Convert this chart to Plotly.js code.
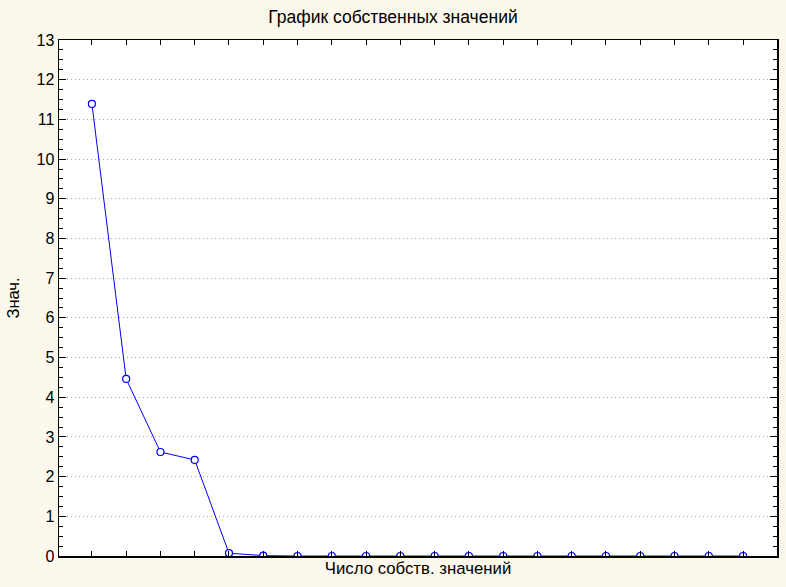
<!DOCTYPE html>
<html><head><meta charset="utf-8">
<script src="https://cdn.plot.ly/plotly-3.0.1.min.js"></script>
<style>body{margin:0;background:#fdf8ec;}</style>
</head><body>
<div id="chart" style="width:786px;height:587px;"></div>
<script>
const componentNumber = [1,2,3,4,5,6,7,8,9,10,11,12,13,14,15,16,17,18,19,20];
const eigenvalues = [11.39,4.46,2.62,2.42,0.07,0.01,0,0,0,0,0,0,0,0,0,0,0,0,0,0];
const chartTitle = "График собственных значений";
const xTitle = "Число собств. значений";
const yTitle = "Знач.";

Plotly.newPlot("chart", [{
  x: componentNumber, y: eigenvalues, type: "scatter", mode: "lines+markers",
  line: {color: "#0000ff", width: 1},
  marker: {symbol: "circle", size: 7, color: "#ffffff", line: {color: "#0000ff", width: 1.2}},
  cliponaxis: true, hoverinfo: "skip"
}], {
  width: 786, height: 587,
  paper_bgcolor: "#fdf8ec", plot_bgcolor: "#ffffff",
  font: {family: "Liberation Sans, Arial, sans-serif", color: "#000"},
  margin: {l: 59, r: 9, t: 40, b: 31},
  showlegend: false,
  title: {text: chartTitle, font: {size: 17.5}, x: 0.5, xanchor: "center", y: 0.972, yanchor: "middle"},
  xaxis: {
    range: [0.04, 20.99], tickvals: componentNumber, showticklabels: false,
    ticks: "inside", ticklen: 5, tickcolor: "#000", showgrid: false, zeroline: false,
    showline: true, linecolor: "#000", linewidth: 1.5, mirror: "ticks",
    title: {text: xTitle, font: {size: 16.8}, standoff: 5}
  },
  yaxis: {
    range: [0, 13], dtick: 1, tick0: 0, ticks: "inside", ticklen: 7, tickcolor: "#000",
    tickfont: {size: 16}, showgrid: true, gridcolor: "#a8a8a8", griddash: "1px,3px", gridwidth: 1,
    zeroline: false, showline: true, linecolor: "#000", linewidth: 1.5, mirror: "ticks",
    minor: {dtick: 0.25, ticks: "inside", ticklen: 4, tickcolor: "#000", showgrid: false},
    title: {text: yTitle, font: {size: 16.5}, standoff: 12}
  }
}, {staticPlot: true});
</script>
</body></html>
